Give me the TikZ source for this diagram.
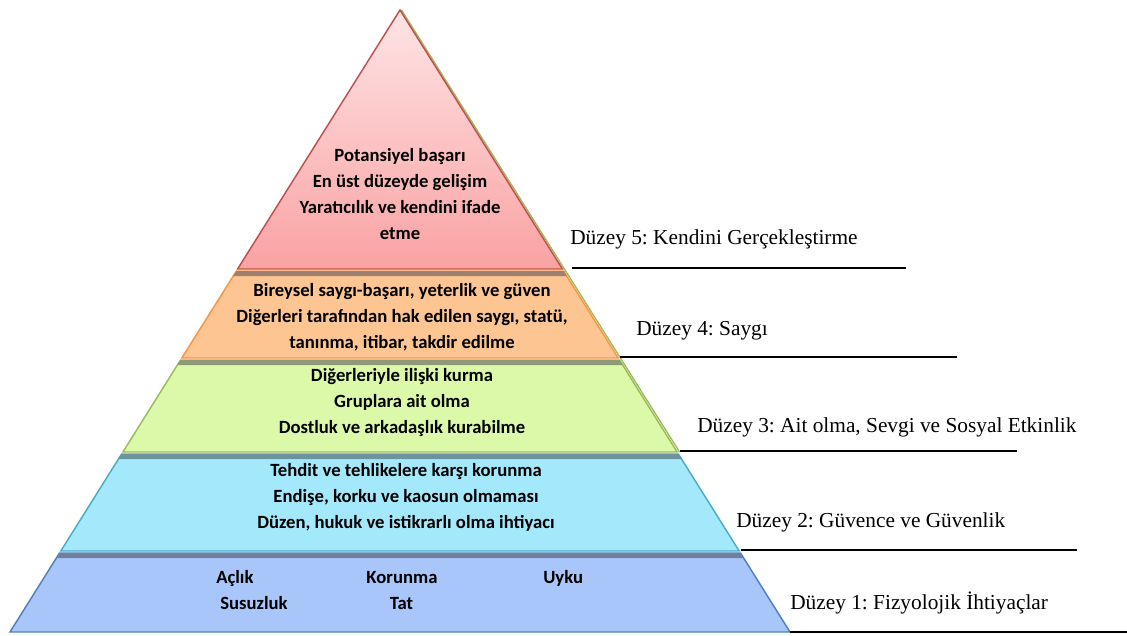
\documentclass[tikz,border=0pt]{standalone}
\usepackage{fontspec}
\setmainfont{Liberation Serif}
\newfontfamily\layerfont{Carlito}
\usepackage{xcolor}
\definecolor{layerfill1}{HTML}{A8C6F9}
\definecolor{layerfill2}{HTML}{A3E9FB}
\definecolor{layerfill3}{HTML}{DCF9AA}
\definecolor{layerfill4}{HTML}{FCC591}
\definecolor{layerfill5a}{HTML}{FFE4E5}
\definecolor{layerfill5b}{HTML}{F9A2A3}
\definecolor{layerline1}{HTML}{4F81BD}
\definecolor{layerline2}{HTML}{4BACC6}
\definecolor{layerline3}{HTML}{9BBB59}
\definecolor{layerline4}{HTML}{F79646}
\definecolor{layerline5}{HTML}{C0504D}
\definecolor{layershade1}{HTML}{6F7F9E}
\definecolor{layershade2}{HTML}{6C93A0}
\definecolor{layershade3}{HTML}{8E9A76}
\definecolor{layershade4}{HTML}{9E8070}

\tikzset{
    layertext/.style = {font = \layerfont\bfseries\fontsize{14}{19.5}\selectfont, align = center, inner sep = 0pt},
    wordtext/.style = {font = \layerfont\bfseries\fontsize{14}{16}\selectfont, inner sep = 0pt, anchor = base},
    levellabel/.style = {font = \frenchspacing\fontsize{16}{19}\selectfont, anchor = base west, inner sep = 0pt},
    underline/.style = {line width = 1.3pt, color = black},
}

\begin{document}
\begin{tikzpicture}[x = 0.75pt, y = -0.75pt]
        \useasboundingbox (0, 0) rectangle (1127, 635);

        % Outer edge
        \draw [line width = 1pt, color = layerline3] (401.5, 10) -- (679.5, 452);

        % Layers
        \draw [line width = 1.1pt, draw = layerline5, top color = layerfill5a, bottom color = layerfill5b] (400, 10) -- (562.4, 269) -- (237.6, 269) -- cycle;
        \draw [line width = 1.1pt, draw = layerline4, fill = layerfill4] (236.4, 271) -- (563.6, 271) -- (618.2, 358) -- (181.8, 358) -- cycle;
        \draw [line width = 1.1pt, draw = layerline3, fill = layerfill3] (180.5, 360) -- (619.5, 360) -- (677.1, 452) -- (122.9, 452) -- cycle;
        \draw [line width = 1.1pt, draw = layerline2, fill = layerfill2] (121.6, 454) -- (678.4, 454) -- (739.2, 551) -- (60.8, 551) -- cycle;
        \draw [line width = 1.1pt, draw = layerline1, fill = layerfill1] (59.5, 553) -- (740.5, 553) -- (790, 632) -- (10, 632) -- cycle;

        % Shadows under each layer
        \fill [layershade4] (236.4, 271) -- (563.6, 271) -- (566.8, 276) -- (233.2, 276) -- cycle;
        \fill [layershade3] (180.5, 360) -- (619.5, 360) -- (622.6, 365) -- (177.4, 365) -- cycle;
        \fill [layershade2] (121.6, 454) -- (678.4, 454) -- (681.5, 459) -- (118.5, 459) -- cycle;
        \fill [layershade1] (59.5, 553) -- (740.5, 553) -- (743.6, 558) -- (56.4, 558) -- cycle;

        % Layer texts
        \node [layertext] (need5) at (400, 194) {Potansiyel başarı\\En üst düzeyde gelişim\\Yaratıcılık ve kendini ifade\\etme};
        \node [layertext] (need4) at (402, 317) {Bireysel saygı-başarı, yeterlik ve güven\\Diğerleri tarafından hak edilen saygı, statü,\\tanınma, itibar, takdir edilme};
        \node [layertext] (need3) at (402, 403) {Diğerleriyle ilişki kurma\\Gruplara ait olma\\Dostluk ve arkadaşlık kurabilme};
        \node [layertext] (need2) at (406, 497) {Tehdit ve tehlikelere karşı korunma\\Endişe, korku ve kaosun olmaması\\Düzen, hukuk ve istikrarlı olma ihtiyacı};
        \node [wordtext, anchor = base west] (hunger) at (216, 583) {Açlık};
        \node [wordtext] (shelter) at (402, 583) {Korunma};
        \node [wordtext, anchor = base west] (sleep) at (543, 583) {Uyku};
        \node [wordtext, anchor = base west] (thirst) at (220, 609) {Susuzluk};
        \node [wordtext] (taste) at (401.5, 609) {Tat};

        % Level labels
        \node [levellabel] (level5) at (570, 244) {Düzey 5: Kendini Gerçekleştirme};
        \node [levellabel] (level4) at (636, 335) {Düzey 4: Saygı};
        \node [levellabel] (level3) at (697, 432) {Düzey 3: Ait olma, Sevgi ve Sosyal Etkinlik};
        \node [levellabel] (level2) at (736, 527) {Düzey 2: Güvence ve Güvenlik};
        \node [levellabel] (level1) at (790, 609) {Düzey 1: Fizyolojik İhtiyaçlar};

        % Underlines
        \coordinate (under5a) at (572, 268);
        \coordinate (under5b) at (906, 268);
        \coordinate (under4a) at (620, 357);
        \coordinate (under4b) at (957, 357);
        \coordinate (under3a) at (680, 451);
        \coordinate (under3b) at (1017, 451);
        \coordinate (under2a) at (741, 550);
        \coordinate (under2b) at (1077, 550);
        \coordinate (under1a) at (790, 632);
        \coordinate (under1b) at (1127, 632);
        \draw [underline] (under5a) -- (under5b);
        \draw [underline] (under4a) -- (under4b);
        \draw [underline] (under3a) -- (under3b);
        \draw [underline] (under2a) -- (under2b);
        \draw [underline] (under1a) -- (under1b);

    \end{tikzpicture}
\end{document}
